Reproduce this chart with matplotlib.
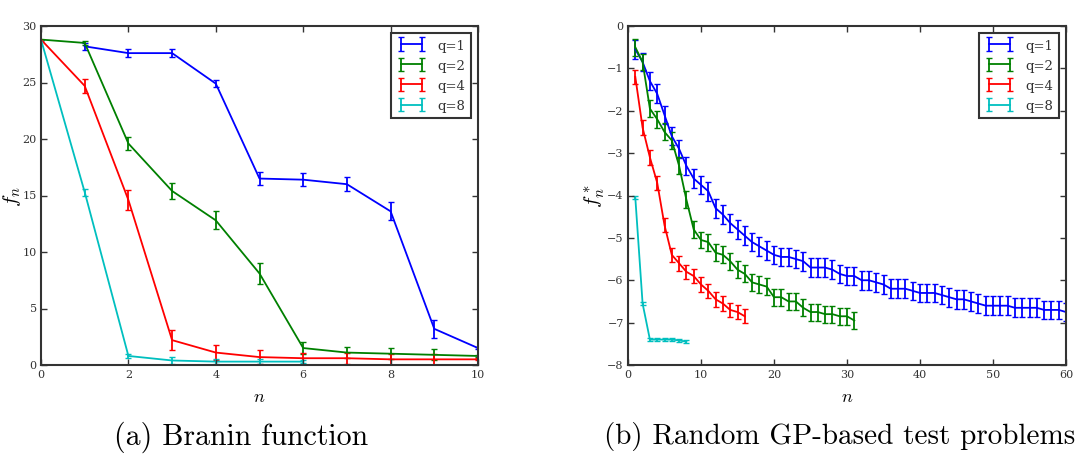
import matplotlib
matplotlib.use("Agg")
import matplotlib.pyplot as plt

plt.style.use("classic")
plt.rcParams["font.family"] = ["DejaVu Serif"]
plt.rcParams["mathtext.fontset"] = "cm"

labels = ["q=1", "q=2", "q=4", "q=8"]
colors = ["b", "g", "r", "c"]

# (a) Branin function
a_x1 = [1, 2, 3, 4, 5, 6, 7, 8, 9, 10]
a_y1 = [28.2, 27.6, 27.6, 24.9, 16.5, 16.4, 16.0, 13.6, 3.2, 1.5]
a_e1 = [0.3, 0.35, 0.35, 0.3, 0.6, 0.6, 0.6, 0.8, 0.8, 0.1]
a_x2 = [0, 1, 2, 3, 4, 5, 6, 7, 8, 9, 10]
a_y2 = [28.8, 28.5, 19.6, 15.4, 12.8, 8.1, 1.5, 1.1, 1.0, 0.9, 0.8]
a_e2 = [0.0, 0.2, 0.6, 0.7, 0.8, 0.9, 0.5, 0.5, 0.5, 0.5, 0.1]
a_x4 = [0, 1, 2, 3, 4, 5, 6, 7, 8, 9, 10]
a_y4 = [28.8, 24.7, 14.6, 2.2, 1.1, 0.7, 0.6, 0.6, 0.5, 0.5, 0.5]
a_e4 = [0.0, 0.6, 0.9, 0.9, 0.7, 0.6, 0.5, 0.5, 0.5, 0.5, 0.1]
a_x8 = [0, 1, 2, 3, 4, 5, 6]
a_y8 = [28.8, 15.3, 0.8, 0.4, 0.3, 0.3, 0.3]
a_e8 = [0.0, 0.3, 0.2, 0.3, 0.2, 0.2, 0.1]

# (b) Random GP-based test problems
b_y1 = [-0.55, -0.85, -1.3, -1.6, -2.1, -2.6, -2.9, -3.3, -3.6, -3.75,
        -3.9, -4.3, -4.45, -4.65, -4.8, -4.95, -5.1, -5.2, -5.3, -5.4,
        -5.45, -5.45, -5.5, -5.55, -5.7, -5.7, -5.7, -5.75, -5.85, -5.9,
        -5.9, -6.0, -6.0, -6.05, -6.1, -6.2, -6.2, -6.2, -6.25, -6.3,
        -6.3, -6.3, -6.35, -6.4, -6.45, -6.45, -6.5, -6.55, -6.6, -6.6,
        -6.6, -6.6, -6.65, -6.65, -6.65, -6.65, -6.7, -6.7, -6.7, -6.75]
b_y2 = [-0.5, -0.85, -1.95, -2.2, -2.5, -2.7, -3.3, -4.1, -4.8, -5.05,
        -5.1, -5.35, -5.4, -5.55, -5.75, -5.85, -6.05, -6.1, -6.15, -6.4,
        -6.4, -6.5, -6.5, -6.65, -6.75, -6.75, -6.8, -6.8, -6.85, -6.85,
        -6.95]
b_y4 = [-1.2, -2.4, -3.1, -3.7, -4.7, -5.4, -5.6, -5.8, -5.9, -6.1,
        -6.25, -6.45, -6.55, -6.7, -6.75, -6.85]
b_y8 = [-4.05, -6.55, -7.4, -7.4, -7.4, -7.4, -7.42, -7.45]
b_e1 = 0.22
b_e2 = 0.2
b_e4 = 0.17
b_e8 = 0.04

spine_col = "#333333"
text_col = "#333333"

fig = plt.figure(figsize=(10.81, 4.56), dpi=100, facecolor="white")
ax1 = fig.add_axes([41 / 1081, 1 - 366 / 456, 437 / 1081, 339 / 456])
ax2 = fig.add_axes([628 / 1081, 1 - 366 / 456, 438 / 1081, 339 / 456])

for x, y, e, c, l in [(a_x1, a_y1, a_e1, "b", "q=1"), (a_x2, a_y2, a_e2, "g", "q=2"),
                      (a_x4, a_y4, a_e4, "r", "q=4"), (a_x8, a_y8, a_e8, "c", "q=8")]:
    ax1.errorbar(x, y, yerr=e, color=c, label=l, capsize=2.5, lw=1.3, elinewidth=1.3,
                 capthick=1.0)

for y, e, c, l in [(b_y1, b_e1, "b", "q=1"), (b_y2, b_e2, "g", "q=2"),
                   (b_y4, b_e4, "r", "q=4"), (b_y8, b_e8, "c", "q=8")]:
    x = list(range(1, len(y) + 1))
    ax2.errorbar(x, y, yerr=e, color=c, label=l, capsize=2.5, lw=1.3, elinewidth=1.3,
                 capthick=1.0)

ax1.set_xlim(0, 10)
ax1.set_ylim(0, 30)
ax2.set_xlim(0, 60)
ax2.set_ylim(-8, 0)

for ax in (ax1, ax2):
    ax.tick_params(labelsize=8, direction="in", top=True, right=True, length=4, pad=3,
                   labelcolor=text_col, color=spine_col, width=1.0)
    for s in ax.spines.values():
        s.set_linewidth(1.5)
        s.set_edgecolor(spine_col)
    leg = ax.legend(loc="upper right", fontsize=9.5, frameon=True, fancybox=False,
                    numpoints=2, handlelength=2.2, borderpad=0.45, labelspacing=0.55,
                    handletextpad=0.9, borderaxespad=0.5)
    leg.get_frame().set_linewidth(1.5)
    leg.get_frame().set_edgecolor(spine_col)
    for t in leg.get_texts():
        t.set_color(text_col)
    ax.set_xlabel("$n$", fontsize=13, labelpad=6)

ax1.set_ylabel("$f_n$", fontsize=15, labelpad=0)
ax2.set_ylabel("$f_n^*$", fontsize=15, labelpad=0)

fig.text(241 / 1081, 1 - 437 / 456, "(a) Branin function", family="cmr10",
         fontsize=21.5, ha="center", va="center")
fig.text(840 / 1081, 1 - 437 / 456, "(b) Random GP-based test problems", family="cmr10",
         fontsize=21, ha="center", va="center")

fig.savefig("out.png", dpi=100, facecolor="white")
